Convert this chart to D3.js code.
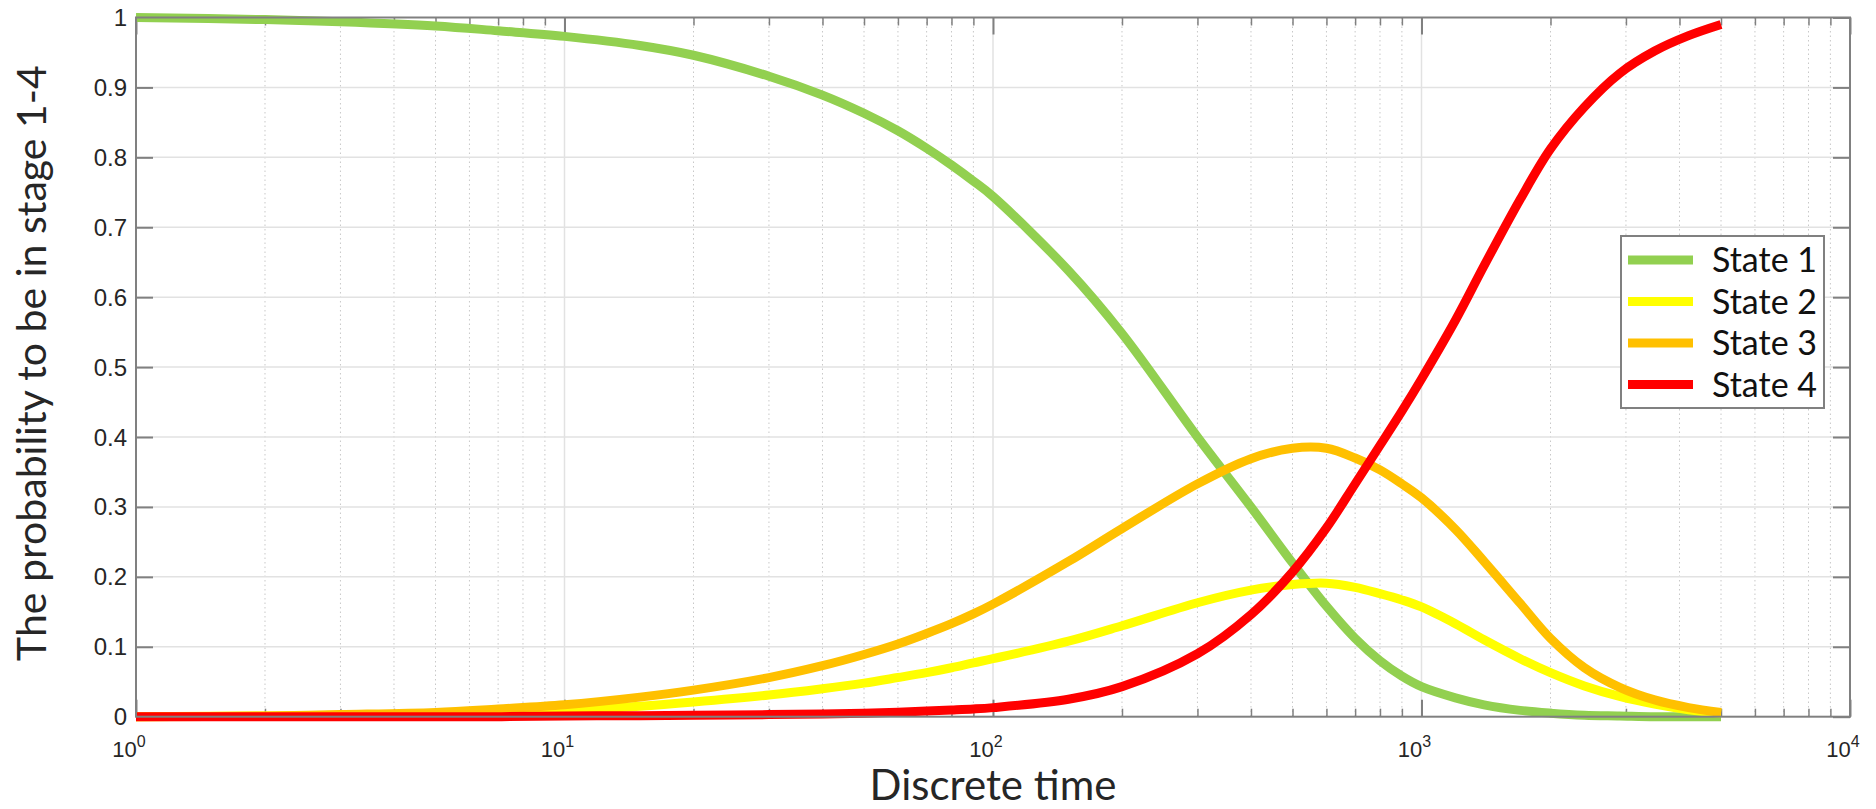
<!DOCTYPE html>
<html>
  <head>
    <meta charset="utf-8" />
    <script src="https://d3js.org/d3.v7.min.js"></script>
    <style>
      body { margin: 0; background: #fff; }
      svg { display: block; }
    </style>
  </head>
  <body>
    <svg id="chart"></svg>
    <script>
      // values
      var times = [1, 2, 3, 5, 7, 10, 15, 20, 30, 40, 50, 60, 70, 80, 90, 100,
        150, 200, 300, 400, 500, 600, 700, 800, 900,
        1000, 1200, 1400, 1700, 2000, 2400, 2900, 3500, 4200, 5000];
      var state1 = [1.0, 0.997, 0.994, 0.988, 0.981, 0.973, 0.96, 0.946, 0.916, 0.889, 0.863, 0.838, 0.813, 0.789, 0.766, 0.744,
        0.638, 0.548, 0.40, 0.30, 0.22, 0.158, 0.112, 0.08, 0.058,
        0.043, 0.027, 0.017, 0.009, 0.005, 0.002, 0.001, 0, 0, 0];
      var state2 = [0, 0.001, 0.002, 0.004, 0.006, 0.009, 0.015, 0.021, 0.031, 0.04, 0.048, 0.056, 0.063, 0.07, 0.077, 0.083,
        0.108, 0.130, 0.163, 0.181, 0.189, 0.191, 0.185, 0.176, 0.167,
        0.157, 0.133, 0.11, 0.083, 0.063, 0.044, 0.029, 0.018, 0.01, 0.005];
      var state3 = [0, 0.001, 0.003, 0.006, 0.011, 0.017, 0.028, 0.038, 0.056, 0.073, 0.089, 0.104, 0.119, 0.133, 0.147, 0.161,
        0.222, 0.269, 0.333, 0.369, 0.384, 0.384, 0.370, 0.353, 0.333,
        0.313, 0.268, 0.222, 0.162, 0.112, 0.07, 0.042, 0.024, 0.013, 0.006];
      var state4 = [0, 0, 0, 0, 0, 0.001, 0.0015, 0.002, 0.003, 0.004, 0.005, 0.0065, 0.008, 0.0095, 0.011, 0.013,
        0.025, 0.043, 0.09, 0.146, 0.207, 0.27, 0.333, 0.388, 0.437,
        0.483, 0.567, 0.645, 0.74, 0.812, 0.872, 0.92, 0.952, 0.974, 0.99];
      var seriesNames = ["State 1", "State 2", "State 3", "State 4"];
      var seriesColors = ["#92d050", "#ffff00", "#ffc000", "#ff0000"];
      var yTicks = [0, 0.1, 0.2, 0.3, 0.4, 0.5, 0.6, 0.7, 0.8, 0.9, 1];
      var xDecades = [1, 10, 100, 1000, 10000];

      var W = 1876, H = 809;
      var pL = 136, pR = 1850, pT = 17.5, pB = 716.7;
      var axisColor = "#808080";
      var textColor = "#262626";

      var svg = d3.select("#chart").attr("width", W).attr("height", H);

      var x = d3.scaleLog().domain([1, 10000]).range([pL, pR]);
      var y = d3.scaleLinear().domain([0, 1]).range([pB, pT]);

      // minor positions 2..9 in each decade
      var minor = [];
      xDecades.slice(0, -1).forEach(function (d) {
        for (var k = 2; k <= 9; k++) minor.push(d * k);
      });

      // grid
      var grid = svg.append("g");
      grid.selectAll("line.minor")
        .data(minor)
        .enter()
        .append("line")
        .attr("x1", function (d) { return x(d); })
        .attr("x2", function (d) { return x(d); })
        .attr("y1", pT)
        .attr("y2", pB)
        .attr("stroke", "#c8c8c8")
        .attr("stroke-width", 1)
        .attr("stroke-dasharray", "1.5,3");
      grid.selectAll("line.hx")
        .data(xDecades.slice(1, -1))
        .enter()
        .append("line")
        .attr("x1", function (d) { return x(d); })
        .attr("x2", function (d) { return x(d); })
        .attr("y1", pT)
        .attr("y2", pB)
        .attr("stroke", "#e2e2e2")
        .attr("stroke-width", 1.5);
      grid.selectAll("line.hy")
        .data(yTicks.slice(1, -1))
        .enter()
        .append("line")
        .attr("x1", pL)
        .attr("x2", pR)
        .attr("y1", function (d) { return y(d); })
        .attr("y2", function (d) { return y(d); })
        .attr("stroke", "#e2e2e2")
        .attr("stroke-width", 1.5);

      // axes with inward ticks on all four sides
      var tickLen = 17, minorLen = 8;
      svg.append("g")
        .attr("transform", "translate(" + pL + ",0)")
        .call(d3.axisRight(y).tickValues(yTicks).tickSize(tickLen).tickFormat(""))
        .call(function (g) { g.select(".domain").remove(); })
        .selectAll("line").attr("stroke", axisColor).attr("stroke-width", 2);
      svg.append("g")
        .attr("transform", "translate(" + pR + ",0)")
        .call(d3.axisLeft(y).tickValues(yTicks).tickSize(tickLen).tickFormat(""))
        .call(function (g) { g.select(".domain").remove(); })
        .selectAll("line").attr("stroke", axisColor).attr("stroke-width", 2);
      [[pB, d3.axisTop], [pT, d3.axisBottom]].forEach(function (p) {
        var g = svg.append("g").attr("transform", "translate(0," + p[0] + ")");
        g.call(p[1](x).tickValues(xDecades).tickSize(tickLen).tickFormat(""));
        g.select(".domain").remove();
        g.selectAll("line").attr("stroke", axisColor).attr("stroke-width", 2);
        var g2 = svg.append("g").attr("transform", "translate(0," + p[0] + ")");
        g2.call(p[1](x).tickValues(minor).tickSize(minorLen).tickFormat(""));
        g2.select(".domain").remove();
        g2.selectAll("line").attr("stroke", axisColor).attr("stroke-width", 1.5);
      });

      // y tick labels
      svg.append("g")
        .selectAll("text")
        .data(yTicks)
        .enter()
        .append("text")
        .attr("x", 127)
        .attr("y", function (d) { return y(d) + 8.5; })
        .attr("text-anchor", "end")
        .attr("font-family", "Liberation Sans, Arial, sans-serif")
        .attr("font-size", 24)
        .attr("fill", textColor)
        .text(function (d) { return d3.format("~g")(d); });

      // x tick labels 10^n
      var xl = svg.append("g")
        .selectAll("text")
        .data(xDecades)
        .enter()
        .append("text")
        .attr("x", function (d) { return x(d) - 7; })
        .attr("y", 757)
        .attr("text-anchor", "middle")
        .attr("font-family", "Liberation Sans, Arial, sans-serif")
        .attr("font-size", 22)
        .attr("fill", textColor);
      xl.append("tspan").text("10");
      xl.append("tspan")
        .attr("dy", -10)
        .attr("font-size", 16)
        .text(function (d) { return Math.round(Math.log10(d)); });

      // curves
      var cols = [state1, state2, state3, state4];
      var line = d3.line()
        .x(function (d) { return x(d[0]); })
        .y(function (d) { return y(d[1]); })
        .curve(d3.curveCatmullRom.alpha(0.5));
      cols.forEach(function (vals, i) {
        svg.append("path")
          .datum(times.map(function (t, j) { return [t, vals[j]]; }))
          .attr("d", line)
          .attr("fill", "none")
          .attr("stroke", seriesColors[i])
          .attr("stroke-width", 9)
          .attr("stroke-linejoin", "round");
      });

      // box outline
      svg.append("rect")
        .attr("x", pL)
        .attr("y", pT)
        .attr("width", pR - pL)
        .attr("height", pB - pT)
        .attr("fill", "none")
        .attr("stroke", axisColor)
        .attr("stroke-width", 2);

      // axis labels
      svg.append("text")
        .attr("x", (pL + pR) / 2)
        .attr("y", 800)
        .attr("text-anchor", "middle")
        .attr("font-family", "Lato, sans-serif")
        .attr("font-size", 42)
        .attr("fill", textColor)
        .text("Discrete time");
      svg.append("text")
        .attr("transform", "translate(46," + ((pT + pB) / 2 - 4) + ") rotate(-90)")
        .attr("text-anchor", "middle")
        .attr("font-family", "Lato, sans-serif")
        .attr("font-size", 41)
        .attr("fill", textColor)
        .text("The probability to be in stage 1-4");

      // legend
      var lg = svg.append("g");
      lg.append("rect")
        .attr("x", 1621)
        .attr("y", 236)
        .attr("width", 203)
        .attr("height", 172)
        .attr("fill", "#fff")
        .attr("stroke", axisColor)
        .attr("stroke-width", 2);
      var items = lg.selectAll("g.item")
        .data(seriesNames)
        .enter()
        .append("g")
        .attr("transform", function (d, i) { return "translate(0," + (260 + i * 41.5) + ")"; });
      items.append("line")
        .attr("x1", 1628)
        .attr("x2", 1693)
        .attr("stroke", function (d, i) { return seriesColors[i]; })
        .attr("stroke-width", 9);
      items.append("text")
        .attr("x", 1712)
        .attr("y", 12)
        .attr("font-family", "Lato, sans-serif")
        .attr("font-size", 34)
        .attr("fill", "#111")
        .text(function (d) { return d; });
    </script>
  </body>
</html>
